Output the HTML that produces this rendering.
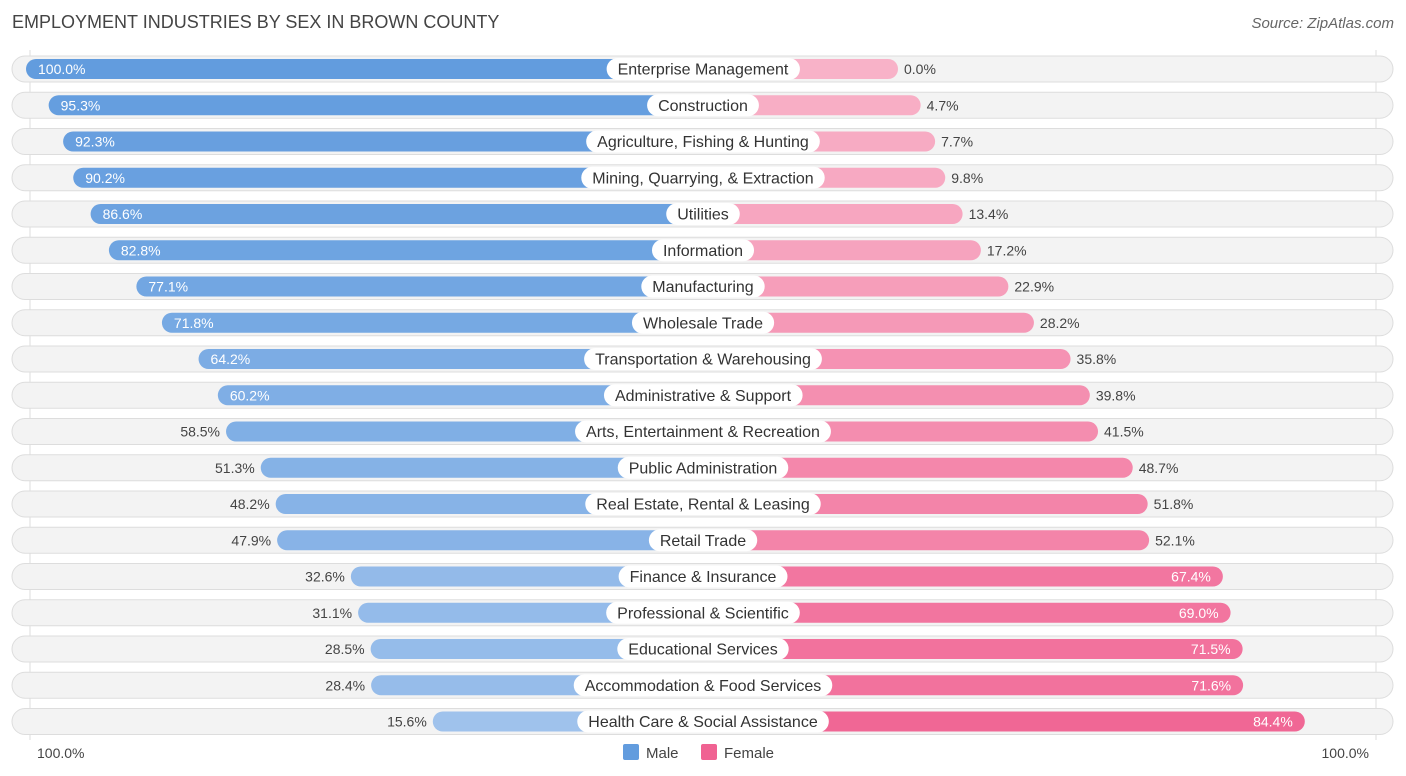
<!DOCTYPE html>
<html><head><meta charset="utf-8"><style>
body{margin:0;background:#fff;font-family:"Liberation Sans",sans-serif;}
#wrap{position:relative;width:1406px;height:776px;overflow:hidden;}
.t{position:absolute;white-space:nowrap;}
</style></head><body>
<div id="wrap">
<div class="t" style="left:12px;top:12px;font-size:18px;color:#444;">EMPLOYMENT INDUSTRIES BY SEX IN BROWN COUNTY</div>
<div class="t" style="right:12px;top:15px;font-size:15px;color:#666;font-style:italic;">Source: ZipAtlas.com</div>
<svg id="svg" width="1406" height="776" style="position:absolute;left:0;top:0"></svg>
</div>
<script>
const categories=["Enterprise Management","Construction","Agriculture, Fishing & Hunting","Mining, Quarrying, & Extraction","Utilities","Information","Manufacturing","Wholesale Trade","Transportation & Warehousing","Administrative & Support","Arts, Entertainment & Recreation","Public Administration","Real Estate, Rental & Leasing","Retail Trade","Finance & Insurance","Professional & Scientific","Educational Services","Accommodation & Food Services","Health Care & Social Assistance"];
const male=[100.0,95.3,92.3,90.2,86.6,82.8,77.1,71.8,64.2,60.2,58.5,51.3,48.2,47.9,32.6,31.1,28.5,28.4,15.6];
const female=[0.0,4.7,7.7,9.8,13.4,17.2,22.9,28.2,35.8,39.8,41.5,48.7,51.8,52.1,67.4,69.0,71.5,71.6,84.4];
const axisLabels=["100.0%","100.0%"];
const NS="http://www.w3.org/2000/svg",svg=document.getElementById('svg');
const cx=703,base=195,k=4.82,y0=69,dy=36.25,bh=20;
const w=v=>base+v*k;
function mk(t,a,p){const e=document.createElementNS(NS,t);for(const x in a)e.setAttribute(x,a[x]);(p||svg).appendChild(e);return e;}
function mix(a,b,t){return 'rgb('+a.map((c,i)=>Math.round(c+(b[i]-c)*t)).join(',')+')';}
let g1=mk('line',{x1:30,x2:30,y1:50,y2:740,stroke:'#ddd'});
let g2=mk('line',{x1:1376,x2:1376,y1:50,y2:740,stroke:'#ddd'});
categories.forEach((c,i)=>{
 const y=y0+i*dy;
 const g=mk('g',{});
 const bg=mk('rect',{x:12,y:y-13,width:1381,height:26,rx:13,fill:'#f3f3f3',stroke:'#ddd','stroke-width':1},g);
 
 const mw=w(male[i]),fw=w(female[i]);
 const mb=mk('rect',{x:cx-mw,y:y-bh/2,width:mw,height:bh,rx:10,fill:mix([170,201,239],[98,156,222],male[i]/100)},g);
 
 const fb=mk('rect',{x:cx,y:y-bh/2,width:fw,height:bh,rx:10,fill:mix([248,178,200],[240,98,146],female[i]/90)},g);
 
 const lab=mk('text',{x:cx,y:y+5.5,'text-anchor':'middle','font-size':16,fill:'#333'},g);lab.textContent=c;
 
 const bb=lab.getBBox();
 const pill=mk('rect',{x:bb.x-11,y:y-11,width:bb.width+22,height:22,rx:11,fill:'#fff'},g);
 
 g.appendChild(lab);
 const mIn=male[i]>=60,fIn=female[i]>=60;
 const mt=mk('text',{x:mIn?cx-mw+12:cx-mw-6,y:y+5,'text-anchor':mIn?'start':'end','font-size':14,fill:mIn?'#fff':'#444'},g);mt.textContent=male[i].toFixed(1)+'%';
 
 const ft=mk('text',{x:fIn?cx+fw-12:cx+fw+6,y:y+5,'text-anchor':fIn?'end':'start','font-size':14,fill:fIn?'#fff':'#444'},g);ft.textContent=female[i].toFixed(1)+'%';
 
});
const a1=mk('text',{x:37,y:758,'font-size':14,fill:'#444'});a1.textContent=axisLabels[0];
const a2=mk('text',{x:1369,y:758,'font-size':14,fill:'#444','text-anchor':'end'});a2.textContent=axisLabels[1];
const l1=mk('rect',{x:623,y:744,width:16,height:16,rx:2,fill:'#629cde'});
const t1=mk('text',{x:646,y:758,'font-size':15,fill:'#444'});t1.textContent='Male';
const l2=mk('rect',{x:701,y:744,width:16,height:16,rx:2,fill:'#f06292'});
const t2=mk('text',{x:724,y:758,'font-size':15,fill:'#444'});t2.textContent='Female';
</script>
</body></html>
